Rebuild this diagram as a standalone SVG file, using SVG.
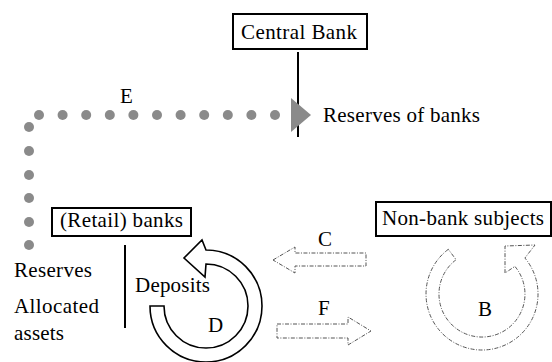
<svg xmlns="http://www.w3.org/2000/svg" width="552" height="362" viewBox="0 0 552 362">
<style>
.box{fill:#fff;stroke:#000;stroke-width:2}
.line{stroke:#000;stroke-width:2;fill:none}
.dot{fill:#8a8a8a}
.dash{fill:#fff;stroke:#555;stroke-width:1;stroke-dasharray:4 1.5 1 1.5}
.solid{fill:#fff;stroke:#000;stroke-width:1.6;stroke-linejoin:miter}
</style>
<rect width="552" height="362" fill="#fff"/>
<g id="connectors">
  <line class="line" x1="298" y1="52" x2="298" y2="137"/>
  <line class="line" x1="125" y1="245" x2="125" y2="328"/>
  <g id="flow-E">
    <circle class="dot" cx="39" cy="115" r="5"/>
    <circle class="dot" cx="62.6" cy="115" r="5"/>
    <circle class="dot" cx="86.2" cy="115" r="5"/>
    <circle class="dot" cx="109.8" cy="115" r="5"/>
    <circle class="dot" cx="133.4" cy="115" r="5"/>
    <circle class="dot" cx="157" cy="115" r="5"/>
    <circle class="dot" cx="180.6" cy="115" r="5"/>
    <circle class="dot" cx="204.2" cy="115" r="5"/>
    <circle class="dot" cx="227.8" cy="115" r="5"/>
    <circle class="dot" cx="251.4" cy="115" r="5"/>
    <circle class="dot" cx="275" cy="115" r="5"/>
    <circle class="dot" cx="29" cy="127" r="5"/>
    <circle class="dot" cx="29" cy="151" r="5"/>
    <circle class="dot" cx="29" cy="175" r="5"/>
    <circle class="dot" cx="29" cy="198" r="5"/>
    <circle class="dot" cx="29" cy="222" r="5"/>
    <circle class="dot" cx="29" cy="245" r="5"/>
    <polygon class="dot" points="291,98 291,132 311,115"/>
  </g>
  <path id="flow-C" class="dash" d="M273,260 L295,247 L295,253 L366,253 L366,266 L295,266 L295,273 Z"/>
  <path id="flow-F" class="dash" d="M277,324 L348,324 L348,317 L371,331 L348,345 L348,338 L277,338 Z"/>
  <path id="flow-D" class="solid" d="M206,250 A56,56 0 1 1 150,306 L164,306 A42,42 0 1 0 206,264 L205,277 L184,258 L202,240 Z"/>
  <path id="flow-B" class="dash" d="M448.3,249.3 A56,56 0 1 0 524.9,258 L535,245 L505,246 L505,273 L514.9,266.4 A43,43 0 1 1 456.1,259.7 Z"/>
</g>
<g font-family="'Liberation Serif', 'Times New Roman', 'DejaVu Serif', serif" font-size="21" fill="#000">
<g id="central-bank">
  <rect class="box" x="233" y="14" width="134" height="35"/>
  <text x="241" y="39" textLength="116">Central Bank</text>
</g>
<g id="retail-banks">
  <rect class="box" x="52" y="208" width="139" height="28"/>
  <text x="60" y="227" textLength="123">(Retail) banks</text>
</g>
<g id="non-bank-subjects">
  <rect class="box" x="376" y="202" width="175" height="34"/>
  <text x="382" y="225" textLength="162">Non-bank subjects</text>
</g>
<g id="labels">
  <text x="120" y="103">E</text>
  <text x="323" y="122" textLength="157">Reserves of banks</text>
  <text x="318" y="246">C</text>
  <text x="318" y="315">F</text>
  <text x="478" y="316">B</text>
  <text x="208" y="332">D</text>
  <text x="135" y="292" textLength="75">Deposits</text>
  <text x="14" y="277" textLength="78">Reserves</text>
  <text x="14" y="313" textLength="85">Allocated</text>
  <text x="14" y="340" textLength="50">assets</text>
</g>
</g>
</svg>
